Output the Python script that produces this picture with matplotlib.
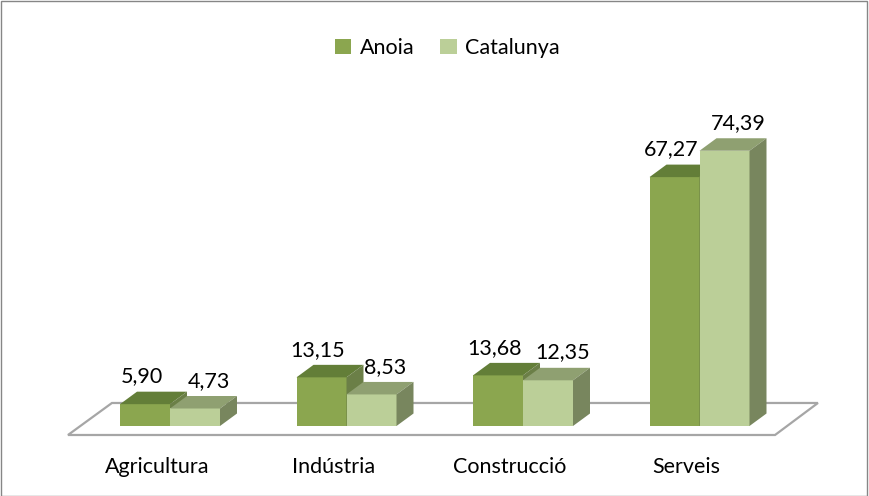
import numpy as np
import matplotlib.pyplot as plt
from matplotlib.patches import Polygon, Rectangle

# data
categories = ['Agricultura', 'Indústria', 'Construcció', 'Serveis']
anoia = [5.90, 13.15, 13.68, 67.27]
catalunya = [4.73, 8.53, 12.35, 74.39]
series_names = ['Anoia', 'Catalunya']

plt.rcParams['font.family'] = ['Lato', 'DejaVu Sans']

W, H = 869, 496
fig = plt.figure(figsize=(W / 100, H / 100), dpi=100)
ax = fig.add_axes([0, 0, 1, 1])

# pixel geometry of the category axis and value axis
px_cat = 176.5      # px per category
x0_px = 170         # px of first category centre
px_val = 3.70       # px per unit
y0_px = 426         # px (from top) of zero
ax.set_xlim(-x0_px / px_cat, (W - x0_px) / px_cat)
ax.set_ylim(-(H - y0_px) / px_val, y0_px / px_val)
ax.axis('off')

bw = 50 / px_cat      # bar width
dx = 17 / px_cat      # depth offset
dy = 12.5 / px_val
fs = 15.5

# floor
floor = Polygon([(-0.578, -2.43), (3.428, -2.43), (3.671, 6.22), (-0.329, 6.22)],
                closed=True, facecolor='white', edgecolor='#a6a6a6', lw=1.6, zorder=1)
ax.add_patch(floor)

styles = [
    dict(front='#8ba64f', top='#637e38', side='#6b7f47'),
    dict(front='#bbcf98', top='#8fa071', side='#78865e'),
]


def bar3d(x, h, st, z):
    ax.add_patch(Rectangle((x, 0), bw, h, facecolor=st['front'], edgecolor='none', zorder=z))
    ax.add_patch(Polygon([(x, h), (x + bw, h), (x + bw + dx, h + dy), (x + dx, h + dy)],
                         closed=True, facecolor=st['top'], edgecolor='none', zorder=z))
    ax.add_patch(Polygon([(x + bw, 0), (x + bw + dx, dy), (x + bw + dx, h + dy), (x + bw, h)],
                         closed=True, facecolor=st['side'], edgecolor='none', zorder=z))


for i, cat in enumerate(categories):
    bar3d(i - bw, anoia[i], styles[0], 2)
    bar3d(i, catalunya[i], styles[1], 3)
    ax.text(i - bw / 2 - 0.02, anoia[i] + 7.5, f'{anoia[i]:.2f}'.replace('.', ','),
            ha='center', va='center', fontsize=fs, color='black', zorder=5)
    ax.text(i + bw / 2 + 0.08, catalunya[i] + 7.5, f'{catalunya[i]:.2f}'.replace('.', ','),
            ha='center', va='center', fontsize=fs, color='black', zorder=5)
    ax.text(i - 0.074, -11.0, cat, ha='center', va='center', fontsize=fs, color='black')

handles = [Rectangle((0, 0), 1, 1, facecolor=s['front']) for s in styles]
fig.legend(handles, series_names, loc='center', bbox_to_anchor=(0.515, 1 - 48 / H),
           ncol=2, frameon=False, fontsize=fs, handlelength=0.75, handleheight=0.75,
           handletextpad=0.4, columnspacing=1.2)

fig.patches.append(Rectangle((0.001, 0.001), 0.997, 0.997, transform=fig.transFigure,
                             fill=False, edgecolor='#868686', lw=1))

fig.savefig('out.png', dpi=100)
